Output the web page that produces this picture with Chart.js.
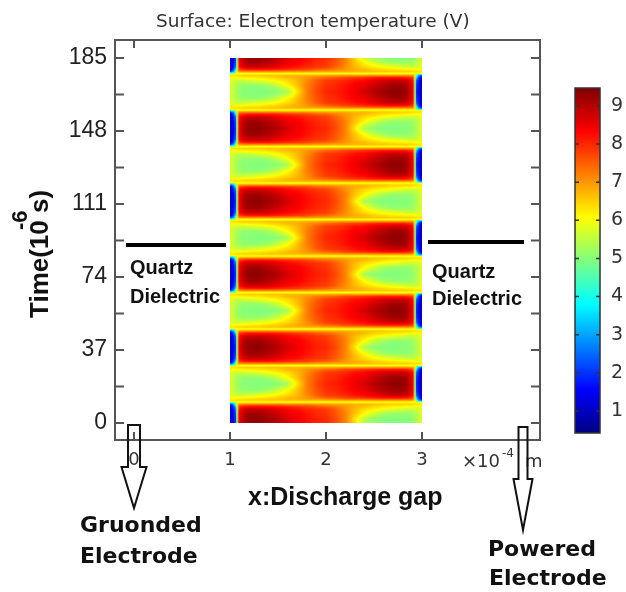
<!DOCTYPE html>
<html>
<head>
<meta charset="utf-8">
<title>Surface: Electron temperature (V)</title>
<script src="https://cdn.jsdelivr.net/npm/chart.js@4"></script>
<style>
  body { margin: 0; background: #fff; }
  #wrap { position: relative; width: 626px; height: 592px; }
  #myChart { position: absolute; left: 0; top: 0; }
  #colorBar { position: absolute; left: 560px; top: 78px; }
</style>
</head>
<body>
<div id="wrap">
  <canvas id="myChart" width="626" height="592"></canvas>
  <canvas id="colorBar" width="66" height="365"></canvas>
</div>
<script>
// tick labels
var timeTicks = [0, 18.5, 37, 55.5, 74, 92.5, 111, 129.5, 148, 166.5, 185];
var gapTicks = [0, 1, 2, 3];
var barTicks = [1, 2, 3, 4, 5, 6, 7, 8, 9];

// jet colours of the colour bar, bottom to top
var barRange = [0.42, 9.47];
var jetStops = [
    [0, 0, 0, 130], [0.125, 0, 0, 255], [0.375, 0, 255, 255],
    [0.625, 255, 255, 0], [0.875, 255, 0, 0], [1, 128, 0, 0]
];

// where each half cycle starts (10^-6 s)
var leftHotStarts = [-7.9, 29.1, 66.1, 103.1, 140.1, 177.1];
var rightHotStarts = [10.6, 47.6, 84.6, 121.6, 158.6];

// grid of one half cycle
var gapNodes = [1, 1.02, 1.04, 1.06, 1.08, 1.1, 1.15, 1.2, 1.3, 1.4, 1.5, 1.6, 1.7, 1.8, 1.9, 2, 2.1, 2.2, 2.3, 2.4, 2.5, 2.6, 2.7, 2.8, 2.85, 2.9, 2.92, 2.94, 2.96, 2.98, 3];
var timeNodes = [0, 1, 2, 3.5, 6, 9.25, 12.5, 15, 16.5, 17.5, 18.5];

// electron temperature when the left side is hot, one row per timeNodes entry
var leftHot = [
    [5.0,5.0,5.2,5.6,5.9,6.0,6.0,6.0,6.0,6.0,6.0,6.0,6.0,6.0,6.0,6.0,6.0,6.0,6.0,6.0,6.0,6.0,6.0,6.0,6.0,6.0,6.0,6.0,6.0,6.0,6.0],
    [2.2,2.5,3.2,4.8,6.6,7.0,7.1,7.1,7.1,7.1,7.1,7.0,7.0,7.0,6.9,6.9,6.8,6.8,6.7,6.7,6.6,6.6,6.5,6.5,6.5,6.4,6.4,6.4,6.3,6.3,6.3],
    [1.4,1.6,2.3,3.8,6.8,7.8,8.0,8.1,8.1,8.1,8.0,7.9,7.8,7.7,7.5,7.4,7.2,7.0,6.8,6.7,6.5,6.4,6.3,6.25,6.2,6.2,6.1,6.1,6.1,6.1,6.1],
    [1.1,1.3,1.9,2.6,7.0,8.3,8.7,8.8,8.8,8.7,8.5,8.3,8.2,8.0,7.9,7.8,7.5,7.1,6.7,6.4,6.2,6.0,5.85,5.7,5.6,5.6,5.6,5.6,5.7,5.8,5.9],
    [1.0,1.2,1.7,2.2,7.2,8.5,9.0,9.2,9.2,9.0,8.8,8.5,8.4,8.2,8.0,7.9,7.6,7.2,6.6,6.1,5.6,5.25,5.1,5.1,5.1,5.2,5.3,5.4,5.5,5.6,5.8],
    [1.0,1.1,1.6,2.0,7.2,8.6,9.1,9.3,9.35,9.2,9.0,8.7,8.45,8.25,8.1,8.0,7.7,7.2,6.3,5.3,5.0,4.95,4.95,5.0,5.0,5.1,5.2,5.3,5.5,5.7,5.8],
    [1.0,1.2,1.7,2.2,7.2,8.5,9.0,9.2,9.2,9.0,8.8,8.5,8.4,8.2,8.0,7.9,7.6,7.2,6.6,6.1,5.6,5.25,5.1,5.1,5.1,5.2,5.3,5.4,5.5,5.6,5.8],
    [1.1,1.3,1.9,2.6,7.0,8.3,8.7,8.8,8.8,8.7,8.5,8.3,8.2,8.0,7.9,7.8,7.5,7.1,6.7,6.4,6.2,6.0,5.85,5.7,5.6,5.6,5.6,5.6,5.7,5.8,5.9],
    [1.4,1.6,2.3,3.8,6.8,7.8,8.0,8.1,8.1,8.1,8.0,7.9,7.8,7.7,7.5,7.4,7.2,7.0,6.8,6.7,6.5,6.4,6.3,6.25,6.2,6.2,6.1,6.1,6.1,6.1,6.1],
    [2.2,2.5,3.2,4.8,6.6,7.0,7.1,7.1,7.1,7.1,7.1,7.0,7.0,7.0,6.9,6.9,6.8,6.8,6.7,6.7,6.6,6.6,6.5,6.5,6.5,6.4,6.4,6.4,6.3,6.3,6.3],
    [5.0,5.0,5.2,5.6,5.9,6.0,6.0,6.0,6.0,6.0,6.0,6.0,6.0,6.0,6.0,6.0,6.0,6.0,6.0,6.0,6.0,6.0,6.0,6.0,6.0,6.0,6.0,6.0,6.0,6.0,6.0]
];

// same when the right side is hot
var rightHot = [
    [6.0,6.0,6.0,6.0,6.0,6.0,6.0,6.0,6.0,6.0,6.0,6.0,6.0,6.0,6.0,6.0,6.0,6.0,6.0,6.0,6.0,6.0,6.0,6.0,6.0,6.0,5.9,5.6,5.2,5.0,5.0],
    [6.3,6.3,6.3,6.4,6.4,6.4,6.5,6.5,6.5,6.6,6.6,6.7,6.7,6.8,6.8,6.9,6.9,7.0,7.0,7.0,7.1,7.1,7.1,7.1,7.1,7.0,6.6,4.8,3.2,2.5,2.2],
    [6.1,6.1,6.1,6.1,6.1,6.2,6.2,6.25,6.3,6.4,6.5,6.7,6.8,7.0,7.2,7.4,7.5,7.7,7.8,7.9,8.0,8.1,8.1,8.1,8.0,7.8,6.8,3.8,2.3,1.6,1.4],
    [5.9,5.8,5.7,5.6,5.6,5.6,5.6,5.7,5.85,6.0,6.2,6.4,6.7,7.1,7.5,7.8,7.9,8.0,8.2,8.3,8.5,8.7,8.8,8.8,8.7,8.3,7.0,2.6,1.9,1.3,1.1],
    [5.8,5.6,5.5,5.4,5.3,5.2,5.1,5.1,5.1,5.25,5.6,6.1,6.6,7.2,7.6,7.9,8.0,8.2,8.4,8.5,8.8,9.0,9.2,9.2,9.0,8.5,7.2,2.2,1.7,1.2,1.0],
    [5.8,5.7,5.5,5.3,5.2,5.1,5.0,5.0,4.95,4.95,5.0,5.3,6.3,7.2,7.7,8.0,8.1,8.25,8.45,8.7,9.0,9.2,9.35,9.3,9.1,8.6,7.2,2.0,1.6,1.1,1.0],
    [5.8,5.6,5.5,5.4,5.3,5.2,5.1,5.1,5.1,5.25,5.6,6.1,6.6,7.2,7.6,7.9,8.0,8.2,8.4,8.5,8.8,9.0,9.2,9.2,9.0,8.5,7.2,2.2,1.7,1.2,1.0],
    [5.9,5.8,5.7,5.6,5.6,5.6,5.6,5.7,5.85,6.0,6.2,6.4,6.7,7.1,7.5,7.8,7.9,8.0,8.2,8.3,8.5,8.7,8.8,8.8,8.7,8.3,7.0,2.6,1.9,1.3,1.1],
    [6.1,6.1,6.1,6.1,6.1,6.2,6.2,6.25,6.3,6.4,6.5,6.7,6.8,7.0,7.2,7.4,7.5,7.7,7.8,7.9,8.0,8.1,8.1,8.1,8.0,7.8,6.8,3.8,2.3,1.6,1.4],
    [6.3,6.3,6.3,6.4,6.4,6.4,6.5,6.5,6.5,6.6,6.6,6.7,6.7,6.8,6.8,6.9,6.9,7.0,7.0,7.0,7.1,7.1,7.1,7.1,7.1,7.0,6.6,4.8,3.2,2.5,2.2],
    [6.0,6.0,6.0,6.0,6.0,6.0,6.0,6.0,6.0,6.0,6.0,6.0,6.0,6.0,6.0,6.0,6.0,6.0,6.0,6.0,6.0,6.0,6.0,6.0,6.0,6.0,5.9,5.6,5.2,5.0,5.0]
];

function jet(v) {
    var f = (v - barRange[0]) / (barRange[1] - barRange[0]);
    f = Math.max(0, Math.min(1, f));
    for (var i = 1; i < jetStops.length; i++) {
        if (f <= jetStops[i][0]) {
            var a = jetStops[i - 1], b = jetStops[i];
            var k = (f - a[0]) / (b[0] - a[0]);
            return [a[1] + (b[1] - a[1]) * k, a[2] + (b[2] - a[2]) * k, a[3] + (b[3] - a[3]) * k];
        }
    }
    return [128, 0, 0];
}

function nodeIndex(nodes, v) {
    for (var i = 0; i < nodes.length - 2; i++) {
        if (v < nodes[i + 1]) return i;
    }
    return nodes.length - 2;
}

// shading inside one grid cell
function sample(table, x, t) {
    var i = nodeIndex(gapNodes, x), j = nodeIndex(timeNodes, t);
    var u = (x - gapNodes[i]) / (gapNodes[i + 1] - gapNodes[i]);
    var w = (t - timeNodes[j]) / (timeNodes[j + 1] - timeNodes[j]);
    var low = table[j][i] * (1 - u) + table[j][i + 1] * u;
    var high = table[j + 1][i] * (1 - u) + table[j + 1][i + 1] * u;
    return low * (1 - w) + high * w;
}

function valueAt(x, t) {
    var all = leftHotStarts.map(function (s) { return [s, leftHot]; })
        .concat(rightHotStarts.map(function (s) { return [s, rightHot]; }));
    for (var i = 0; i < all.length; i++) {
        var rel = t - all[i][0];
        if (rel >= 0 && rel <= 18.5) return sample(all[i][1], x, rel);
    }
    return 6;
}

var heatPlugin = {
    id: 'heat',
    beforeDatasetsDraw: function (chart) {
        var xs = chart.scales.x, ys = chart.scales.y;
        var left = Math.round(xs.getPixelForValue(1)), right = Math.round(xs.getPixelForValue(3));
        var top = Math.round(ys.getPixelForValue(185)), bottom = Math.round(ys.getPixelForValue(0));
        var w = right - left, h = bottom - top;
        var off = document.createElement('canvas');
        off.width = w;
        off.height = h;
        var octx = off.getContext('2d');
        var img = octx.createImageData(w, h);
        for (var py = 0; py < h; py++) {
            var t = ys.getValueForPixel(top + py + 0.5);
            for (var px = 0; px < w; px++) {
                var c = jet(valueAt(xs.getValueForPixel(left + px + 0.5), t));
                var n = (py * w + px) * 4;
                img.data[n] = c[0];
                img.data[n + 1] = c[1];
                img.data[n + 2] = c[2];
                img.data[n + 3] = 255;
            }
        }
        octx.putImageData(img, 0, 0);
        chart.ctx.save();
        chart.ctx.filter = 'blur(0.5px)';
        chart.ctx.drawImage(off, left, top);
        chart.ctx.restore();
    }
};

function boldText(ctx, text, x, y, font) {
    ctx.font = font;
    ctx.fillStyle = '#111';
    ctx.fillText(text, x, y);
}

function arrow(ctx, x, boxW, top, neck, headW, tip) {
    ctx.beginPath();
    ctx.moveTo(x - boxW / 2, neck);
    ctx.lineTo(x - boxW / 2, top);
    ctx.lineTo(x + boxW / 2, top);
    ctx.lineTo(x + boxW / 2, neck);
    ctx.lineTo(x + headW / 2, neck);
    ctx.lineTo(x, tip);
    ctx.lineTo(x - headW / 2, neck);
    ctx.closePath();
    ctx.stroke();
}

var framePlugin = {
    id: 'frame',
    afterDraw: function (chart) {
        var ctx = chart.ctx, a = chart.chartArea, xs = chart.scales.x, ys = chart.scales.y;
        ctx.save();
        // frame and inward ticks on all four sides
        ctx.strokeStyle = '#555';
        ctx.lineWidth = 2;
        ctx.strokeRect(a.left, a.top, a.right - a.left, a.bottom - a.top);
        ctx.beginPath();
        gapTicks.forEach(function (v) {
            var p = xs.getPixelForValue(v);
            ctx.moveTo(p, a.top); ctx.lineTo(p, a.top + 8);
            ctx.moveTo(p, a.bottom); ctx.lineTo(p, a.bottom - 8);
        });
        timeTicks.forEach(function (v) {
            var p = ys.getPixelForValue(v);
            ctx.moveTo(a.left, p); ctx.lineTo(a.left + 9, p);
            ctx.moveTo(a.right, p); ctx.lineTo(a.right - 9, p);
        });
        ctx.stroke();

        ctx.textBaseline = 'alphabetic';
        ctx.textAlign = 'left';
        ctx.fillStyle = '#333';
        ctx.font = '18.5px "DejaVu Sans"';
        ctx.fillText('Surface: Electron temperature (V)', 156, 27);
        ctx.font = '18px "DejaVu Sans"';
        ctx.fillText('\u00d710', 462, 467);
        ctx.fillText('m', 525, 467);
        ctx.font = '12px "DejaVu Sans"';
        ctx.fillText('-4', 502, 457);

        boldText(ctx, 'x:Discharge gap', 248, 505, 'bold 25px "Liberation Sans"');
        boldText(ctx, 'Quartz', 130, 274, 'bold 20px "Liberation Sans"');
        boldText(ctx, 'Dielectric', 130, 303, 'bold 20px "Liberation Sans"');
        boldText(ctx, 'Quartz', 432, 278, 'bold 20px "Liberation Sans"');
        boldText(ctx, 'Dielectric', 432, 305, 'bold 20px "Liberation Sans"');
        boldText(ctx, 'Gruonded', 80, 532, 'bold 22px "DejaVu Sans"');
        boldText(ctx, 'Electrode', 80, 563, 'bold 22px "DejaVu Sans"');
        boldText(ctx, 'Powered', 488, 556, 'bold 22px "DejaVu Sans"');
        boldText(ctx, 'Electrode', 489, 585, 'bold 22px "DejaVu Sans"');

        // rotated axis title with the exponent raised
        ctx.save();
        ctx.translate(48, 318);
        ctx.rotate(-Math.PI / 2);
        boldText(ctx, 'Time(10', 0, 0, 'bold 26px "Liberation Sans"');
        boldText(ctx, '-6', 88, -21, 'bold 22px "Liberation Sans"');
        boldText(ctx, 's)', 105, 0, 'bold 26px "Liberation Sans"');
        ctx.restore();

        // dielectric bars
        ctx.strokeStyle = '#000';
        ctx.lineWidth = 4;
        ctx.beginPath();
        ctx.moveTo(126, 245); ctx.lineTo(226, 245);
        ctx.moveTo(428, 242); ctx.lineTo(524, 242);
        ctx.stroke();

        // electrode arrows
        ctx.strokeStyle = '#111';
        ctx.lineWidth = 2;
        arrow(ctx, 134, 12, 425, 467, 25, 508);
        arrow(ctx, 523, 9, 427, 479, 19, 530);
        ctx.restore();
    }
};

// grid nodes of all half cycles, the plugin shades between them
var nodePoints = [];
leftHotStarts.concat(rightHotStarts).forEach(function (s) {
    timeNodes.forEach(function (t) {
        gapNodes.forEach(function (x) {
            if (s + t >= 0 && s + t <= 185) nodePoints.push({ x: x, y: s + t });
        });
    });
});

var ctx = document.getElementById('myChart').getContext('2d');
var myChart = new Chart(ctx, {
    type: 'scatter',
    data: {
        datasets: [{ label: 'Electron temperature', data: nodePoints, pointRadius: 0, showLine: false }]
    },
    plugins: [heatPlugin, framePlugin],
    options: {
        responsive: false,
        animation: false,
        layout: { padding: { left: 60, right: 86, top: 40, bottom: 122 } },
        plugins: { legend: { display: false }, tooltip: { enabled: false } },
        scales: {
            x: {
                type: 'linear', min: -0.198, max: 4.229,
                grid: { display: false, drawTicks: false },
                border: { display: false },
                afterFit: function (s) { s.height = 30; },
                afterBuildTicks: function (s) { s.ticks = gapTicks.map(function (v) { return { value: v }; }); },
                ticks: {
                    padding: 10, maxRotation: 0, color: '#333',
                    font: { family: '"DejaVu Sans"', size: 18 }
                }
            },
            y: {
                type: 'linear', min: -8.6, max: 194.1,
                grid: { display: false, drawTicks: false },
                border: { display: false },
                afterFit: function (s) { s.width = 55; },
                afterBuildTicks: function (s) { s.ticks = timeTicks.map(function (v) { return { value: v }; }); },
                ticks: {
                    padding: 8, color: '#222',
                    font: { family: '"Liberation Sans"', size: 23 },
                    callback: function (v) { return Number.isInteger(v) ? String(v) : ''; }
                }
            }
        }
    }
});

var barTickPlugin = {
    id: 'barTicks',
    afterDraw: function (chart) {
        var c = chart.ctx, a = chart.chartArea, ys = chart.scales.y;
        c.save();
        c.strokeStyle = '#333';
        c.lineWidth = 1.5;
        c.strokeRect(a.left, a.top, a.right - a.left, a.bottom - a.top);
        c.beginPath();
        barTicks.forEach(function (v) {
            var p = ys.getPixelForValue(v);
            c.moveTo(a.left, p); c.lineTo(a.left + 4, p);
            c.moveTo(a.right, p); c.lineTo(a.right - 4, p);
        });
        c.stroke();
        c.restore();
    }
};

var barChart = new Chart(document.getElementById('colorBar').getContext('2d'), {
    type: 'bar',
    data: {
        labels: ['Electron temperature'],
        datasets: [{
            data: [barRange],
            barPercentage: 1,
            categoryPercentage: 1,
            backgroundColor: function (c) {
                var a = c.chart.chartArea;
                if (!a) return '#000';
                var g = c.chart.ctx.createLinearGradient(0, a.bottom, 0, a.top);
                jetStops.forEach(function (s) {
                    g.addColorStop(s[0], 'rgb(' + s[1] + ',' + s[2] + ',' + s[3] + ')');
                });
                return g;
            }
        }]
    },
    plugins: [barTickPlugin],
    options: {
        responsive: false,
        animation: false,
        layout: { padding: { left: 15, right: 0, top: 10, bottom: 10 } },
        plugins: { legend: { display: false }, tooltip: { enabled: false } },
        scales: {
            x: { display: false },
            y: {
                position: 'right', min: barRange[0], max: barRange[1],
                grid: { display: false, drawTicks: false },
                border: { display: false },
                afterFit: function (s) { s.width = 26; s.paddingTop = 0; s.paddingBottom = 0; },
                afterBuildTicks: function (s) { s.ticks = barTicks.map(function (v) { return { value: v }; }); },
                ticks: { padding: 11, color: '#333', font: { family: '"DejaVu Sans"', size: 19 } }
            }
        }
    }
});
</script>
</body>
</html>
